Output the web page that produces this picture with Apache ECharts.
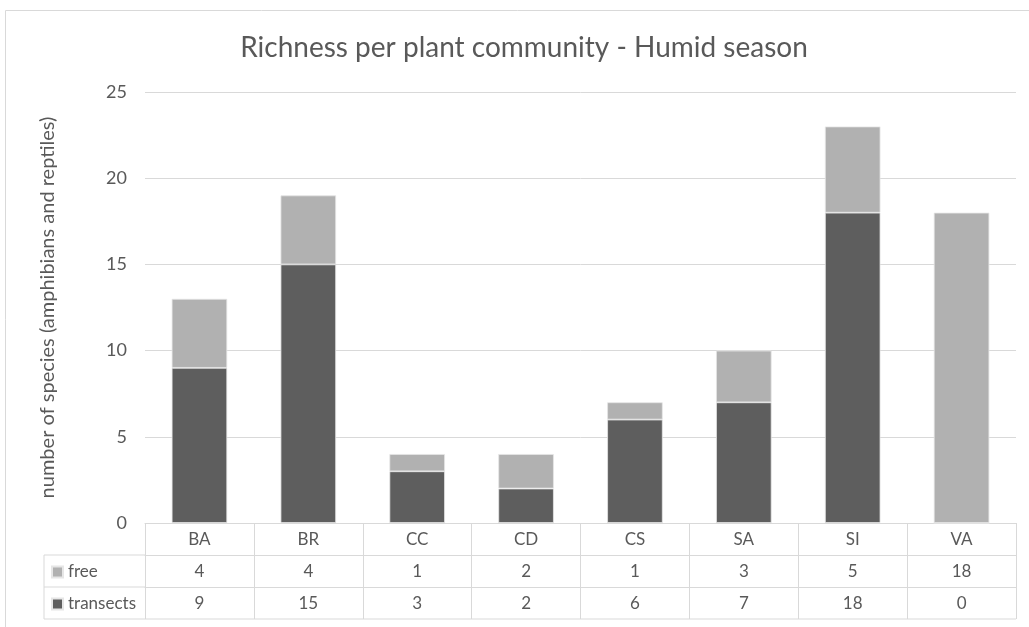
<!DOCTYPE html>
<html>
<head>
<meta charset="utf-8">
<script src="https://cdn.jsdelivr.net/npm/echarts@6/dist/echarts.min.js"></script>
<style>
html,body{margin:0;padding:0;background:#fff;}
#main{width:1029px;height:627px;}
</style>
</head>
<body>
<div id="main"></div>
<script>
const categories = ['BA','BR','CC','CD','CS','SA','SI','VA'];
const freeValues = [4,4,1,2,1,3,5,18];
const transectValues = [9,15,3,2,6,7,18,0];
const yTicks = [0,5,10,15,20,25];

const FONT = 'Lato';
const TXT = '#595959';
const LINE = '#d9d9d9';

const chart = echarts.init(document.getElementById('main'), null, {renderer:'canvas'});

const gridLeft = 145, gridRight = 13, gridTop = 92, gridBottom = 104;
const rowH = 32;
const axisY = 627 - gridBottom;
const tableLeft = 44;
const tableRight = 1029 - gridRight;

function valueAxis(offset, values){
  return {
    type:'category', data:categories, position:'bottom', offset:offset,
    axisLine:{show:true, lineStyle:{color:LINE, width:1}},
    axisTick:{show:false},
    axisLabel:{margin:8, fontFamily:FONT, fontSize:17, color:TXT,
      formatter:function(v, i){ return String(values[i]); }}
  };
}

chart.setOption({
  animation:false,
  textStyle:{fontFamily:FONT},
  title:{
    text:'Richness per plant community - Humid season',
    left:519, top:29, textAlign:'center',
    textStyle:{fontFamily:FONT, fontSize:28, fontWeight:'normal', color:TXT}
  },
  legend:{
    data:['free','transects'],
    orient:'vertical', left:46, top:axisY + rowH + 2,
    itemWidth:11, itemHeight:11, itemGap:12, icon:'rect',
    textStyle:{fontFamily:FONT, fontSize:17, color:TXT, lineHeight:20},
    selectedMode:false
  },
  grid:{left:gridLeft, right:gridRight, top:gridTop, bottom:gridBottom, containLabel:false},
  xAxis:[
    {
      type:'category', data:categories, position:'bottom',
      axisLine:{show:true, lineStyle:{color:LINE, width:1}},
      axisTick:{show:true, alignWithLabel:false, length:rowH*3, lineStyle:{color:LINE, width:1}},
      axisLabel:{margin:8, fontFamily:FONT, fontSize:17, color:TXT}
    },
    valueAxis(rowH, freeValues),
    valueAxis(rowH*2, transectValues)
  ],
  yAxis:{
    type:'value', min:0, max:25, interval:5,
    name:'number of species (amphibians and reptiles)',
    nameLocation:'middle', nameGap:87, nameRotate:90,
    nameTextStyle:{fontFamily:FONT, fontSize:20, color:TXT},
    axisLine:{show:false}, axisTick:{show:false},
    axisLabel:{margin:18, fontFamily:FONT, fontSize:18, color:TXT,
      formatter:function(v){ return yTicks.indexOf(v) >= 0 ? String(v) : ''; }},
    splitLine:{show:true, lineStyle:{color:LINE, width:1}}
  },
  series:[
    {name:'transects', type:'bar', stack:'total', data:transectValues, barWidth:'51%',
     itemStyle:{color:'#5e5e5e', borderColor:'#e6e6e6', borderWidth:0.8}},
    {name:'free', type:'bar', stack:'total', data:freeValues, barWidth:'51%',
     itemStyle:{color:'#b1b1b1', borderColor:'#e6e6e6', borderWidth:0.8}}
  ],
  graphic:[
    {type:'rect', shape:{x:5.5, y:10.5, width:1100, height:700}, style:{fill:'none', stroke:LINE, lineWidth:1}, silent:true},
    {type:'line', shape:{x1:tableLeft, y1:axisY+rowH*3, x2:tableRight, y2:axisY+rowH*3}, style:{stroke:LINE, lineWidth:1}, silent:true},
    {type:'line', shape:{x1:tableLeft, y1:axisY+rowH, x2:gridLeft, y2:axisY+rowH}, style:{stroke:LINE, lineWidth:1}, silent:true},
    {type:'line', shape:{x1:tableLeft, y1:axisY+rowH*2, x2:gridLeft, y2:axisY+rowH*2}, style:{stroke:LINE, lineWidth:1}, silent:true},
    {type:'line', shape:{x1:tableLeft, y1:axisY+rowH, x2:tableLeft, y2:axisY+rowH*3}, style:{stroke:LINE, lineWidth:1}, silent:true}
  ]
});
</script>
</body>
</html>
